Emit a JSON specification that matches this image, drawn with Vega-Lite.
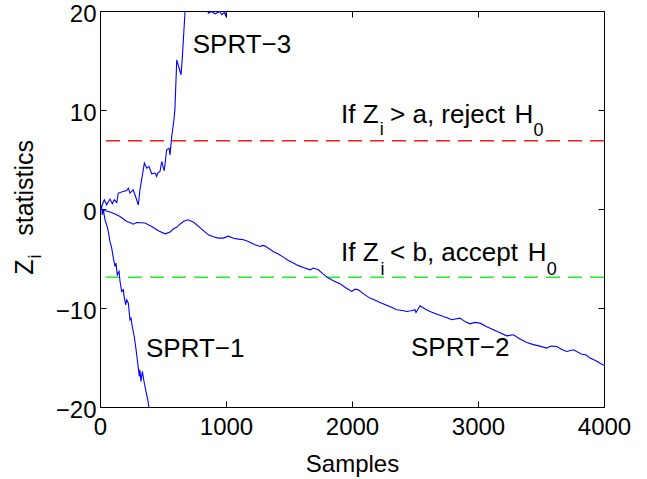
{
  "$schema": "https://vega.github.io/schema/vega-lite/v6.json",
  "width": 504,
  "height": 396,
  "autosize": "none",
  "padding": {"left": 100, "top": 11, "right": 43, "bottom": 72},
  "background": "white",
  "config": {
    "view": {"stroke": "black", "strokeWidth": 1},
    "font": "Liberation Sans",
    "axis": {
      "domainColor": "black", "tickColor": "black", "labelColor": "black", "titleColor": "black",
      "grid": false, "labelFont": "Liberation Sans", "titleFont": "Liberation Sans",
      "labelFontSize": 24, "titleFontSize": 24, "titleFontWeight": "normal",
      "tickSize": -6, "tickWidth": 1, "labelFlush": false, "labelOverlap": false, "format": "d", "zindex": 2
    }
  },
  "datasets": {
    "curves": [
      {"s":"SPRT-2","x":0,"y":0},{"s":"SPRT-2","x":40,"y":-0.18},{"s":"SPRT-2","x":80,"y":-0.3},{"s":"SPRT-2","x":119,"y":-0.51},{"s":"SPRT-2","x":159,"y":-0.76},{"s":"SPRT-2","x":212,"y":-1.26},{"s":"SPRT-2","x":238,"y":-1.36},{"s":"SPRT-2","x":264,"y":-1.53},{"s":"SPRT-2","x":291,"y":-1.36},{"s":"SPRT-2","x":357,"y":-1.42},{"s":"SPRT-2","x":410,"y":-1.77},{"s":"SPRT-2","x":463,"y":-2.2},{"s":"SPRT-2","x":516,"y":-2.51},{"s":"SPRT-2","x":556,"y":-2.33},{"s":"SPRT-2","x":575,"y":-2.1},{"s":"SPRT-2","x":595,"y":-1.93},{"s":"SPRT-2","x":610,"y":-1.85},{"s":"SPRT-2","x":621,"y":-1.67},{"s":"SPRT-2","x":661,"y":-1.26},{"s":"SPRT-2","x":696,"y":-1.09},{"s":"SPRT-2","x":741,"y":-1.32},{"s":"SPRT-2","x":800,"y":-1.95},{"s":"SPRT-2","x":860,"y":-2.61},{"s":"SPRT-2","x":900,"y":-2.8},{"s":"SPRT-2","x":939,"y":-2.94},{"s":"SPRT-2","x":979,"y":-2.94},{"s":"SPRT-2","x":1018,"y":-2.74},{"s":"SPRT-2","x":1060,"y":-2.95},{"s":"SPRT-2","x":1098,"y":-3.04},{"s":"SPRT-2","x":1140,"y":-3.1},{"s":"SPRT-2","x":1177,"y":-3.28},{"s":"SPRT-2","x":1230,"y":-3.62},{"s":"SPRT-2","x":1270,"y":-3.79},{"s":"SPRT-2","x":1290,"y":-3.68},{"s":"SPRT-2","x":1310,"y":-3.75},{"s":"SPRT-2","x":1375,"y":-4.29},{"s":"SPRT-2","x":1415,"y":-4.55},{"s":"SPRT-2","x":1455,"y":-4.86},{"s":"SPRT-2","x":1495,"y":-5.2},{"s":"SPRT-2","x":1534,"y":-5.46},{"s":"SPRT-2","x":1575,"y":-5.72},{"s":"SPRT-2","x":1614,"y":-5.91},{"s":"SPRT-2","x":1667,"y":-6.14},{"s":"SPRT-2","x":1693,"y":-5.97},{"s":"SPRT-2","x":1733,"y":-6.14},{"s":"SPRT-2","x":1770,"y":-6.55},{"s":"SPRT-2","x":1812,"y":-6.98},{"s":"SPRT-2","x":1860,"y":-7.3},{"s":"SPRT-2","x":1905,"y":-7.56},{"s":"SPRT-2","x":1950,"y":-7.95},{"s":"SPRT-2","x":1998,"y":-8.33},{"s":"SPRT-2","x":2025,"y":-8.1},{"s":"SPRT-2","x":2050,"y":-8.16},{"s":"SPRT-2","x":2100,"y":-8.65},{"s":"SPRT-2","x":2143,"y":-9.0},{"s":"SPRT-2","x":2180,"y":-9.2},{"s":"SPRT-2","x":2222,"y":-9.44},{"s":"SPRT-2","x":2290,"y":-9.8},{"s":"SPRT-2","x":2355,"y":-10.18},{"s":"SPRT-2","x":2400,"y":-10.25},{"s":"SPRT-2","x":2434,"y":-10.35},{"s":"SPRT-2","x":2470,"y":-10.28},{"s":"SPRT-2","x":2500,"y":-10.18},{"s":"SPRT-2","x":2508,"y":-10.45},{"s":"SPRT-2","x":2540,"y":-9.78},{"s":"SPRT-2","x":2580,"y":-10.1},{"s":"SPRT-2","x":2619,"y":-10.35},{"s":"SPRT-2","x":2670,"y":-10.6},{"s":"SPRT-2","x":2725,"y":-10.86},{"s":"SPRT-2","x":2760,"y":-11.0},{"s":"SPRT-2","x":2791,"y":-11.19},{"s":"SPRT-2","x":2857,"y":-11.02},{"s":"SPRT-2","x":2900,"y":-11.4},{"s":"SPRT-2","x":2937,"y":-11.6},{"s":"SPRT-2","x":2975,"y":-11.45},{"s":"SPRT-2","x":3016,"y":-11.53},{"s":"SPRT-2","x":3070,"y":-11.9},{"s":"SPRT-2","x":3122,"y":-12.2},{"s":"SPRT-2","x":3175,"y":-12.5},{"s":"SPRT-2","x":3228,"y":-12.81},{"s":"SPRT-2","x":3281,"y":-12.71},{"s":"SPRT-2","x":3330,"y":-13.1},{"s":"SPRT-2","x":3387,"y":-13.48},{"s":"SPRT-2","x":3440,"y":-13.7},{"s":"SPRT-2","x":3490,"y":-13.85},{"s":"SPRT-2","x":3545,"y":-14.05},{"s":"SPRT-2","x":3580,"y":-13.85},{"s":"SPRT-2","x":3625,"y":-13.89},{"s":"SPRT-2","x":3665,"y":-14.2},{"s":"SPRT-2","x":3704,"y":-14.39},{"s":"SPRT-2","x":3757,"y":-14.22},{"s":"SPRT-2","x":3820,"y":-14.65},{"s":"SPRT-2","x":3860,"y":-14.75},{"s":"SPRT-2","x":3889,"y":-15.06},{"s":"SPRT-2","x":3940,"y":-15.35},{"s":"SPRT-2","x":3990,"y":-15.74},{"s":"SPRT-2","x":4000,"y":-15.8},
      {"s":"SPRT-3","x":0,"y":0},{"s":"SPRT-3","x":13,"y":0.25},{"s":"SPRT-3","x":34,"y":0.93},{"s":"SPRT-3","x":53,"y":0.42},{"s":"SPRT-3","x":79,"y":1.0},{"s":"SPRT-3","x":98,"y":0.53},{"s":"SPRT-3","x":113,"y":0.93},{"s":"SPRT-3","x":133,"y":0.66},{"s":"SPRT-3","x":145,"y":1.61},{"s":"SPRT-3","x":185,"y":1.77},{"s":"SPRT-3","x":212,"y":1.87},{"s":"SPRT-3","x":225,"y":2.11},{"s":"SPRT-3","x":238,"y":1.61},{"s":"SPRT-3","x":264,"y":1.94},{"s":"SPRT-3","x":291,"y":0.93},{"s":"SPRT-3","x":304,"y":0.42},{"s":"SPRT-3","x":317,"y":1.94},{"s":"SPRT-3","x":352,"y":4.64},{"s":"SPRT-3","x":371,"y":4.13},{"s":"SPRT-3","x":389,"y":4.29},{"s":"SPRT-3","x":410,"y":3.56},{"s":"SPRT-3","x":437,"y":3.63},{"s":"SPRT-3","x":450,"y":3.28},{"s":"SPRT-3","x":458,"y":3.63},{"s":"SPRT-3","x":476,"y":3.79},{"s":"SPRT-3","x":490,"y":4.8},{"s":"SPRT-3","x":510,"y":3.86},{"s":"SPRT-3","x":529,"y":5.98},{"s":"SPRT-3","x":548,"y":6.15},{"s":"SPRT-3","x":556,"y":5.47},{"s":"SPRT-3","x":569,"y":7.32},{"s":"SPRT-3","x":587,"y":9.01},{"s":"SPRT-3","x":595,"y":10.19},{"s":"SPRT-3","x":609,"y":15.07},{"s":"SPRT-3","x":643,"y":13.56},{"s":"SPRT-3","x":653,"y":15.24},{"s":"SPRT-3","x":675,"y":19.95},{"s":"SPRT-3","x":714,"y":23},{"s":"SPRT-3","x":794,"y":24},{"s":"SPRT-3","x":837,"y":21.5},{"s":"SPRT-3","x":860,"y":19.79},{"s":"SPRT-3","x":886,"y":19.95},{"s":"SPRT-3","x":913,"y":19.72},{"s":"SPRT-3","x":952,"y":19.95},{"s":"SPRT-3","x":966,"y":19.62},{"s":"SPRT-3","x":987,"y":19.85},{"s":"SPRT-3","x":998,"y":19.52},{"s":"SPRT-3","x":1020,"y":21.5},{"s":"SPRT-3","x":1100,"y":24},
      {"s":"SPRT-1","x":0,"y":0},{"s":"SPRT-1","x":13,"y":0.25},{"s":"SPRT-1","x":18,"y":-0.59},{"s":"SPRT-1","x":26,"y":-0.08},{"s":"SPRT-1","x":40,"y":-1.09},{"s":"SPRT-1","x":53,"y":-1.6},{"s":"SPRT-1","x":66,"y":-2.27},{"s":"SPRT-1","x":79,"y":-3.28},{"s":"SPRT-1","x":93,"y":-3.95},{"s":"SPRT-1","x":106,"y":-4.96},{"s":"SPRT-1","x":119,"y":-5.81},{"s":"SPRT-1","x":127,"y":-5.46},{"s":"SPRT-1","x":137,"y":-6.65},{"s":"SPRT-1","x":151,"y":-6.31},{"s":"SPRT-1","x":159,"y":-7.32},{"s":"SPRT-1","x":172,"y":-8.33},{"s":"SPRT-1","x":185,"y":-8.16},{"s":"SPRT-1","x":193,"y":-9.0},{"s":"SPRT-1","x":204,"y":-9.68},{"s":"SPRT-1","x":212,"y":-9.17},{"s":"SPRT-1","x":225,"y":-9.51},{"s":"SPRT-1","x":238,"y":-11.19},{"s":"SPRT-1","x":246,"y":-11.02},{"s":"SPRT-1","x":256,"y":-11.87},{"s":"SPRT-1","x":272,"y":-12.88},{"s":"SPRT-1","x":283,"y":-13.89},{"s":"SPRT-1","x":296,"y":-15.23},{"s":"SPRT-1","x":304,"y":-16.07},{"s":"SPRT-1","x":312,"y":-16.92},{"s":"SPRT-1","x":317,"y":-16.24},{"s":"SPRT-1","x":325,"y":-17.42},{"s":"SPRT-1","x":336,"y":-16.41},{"s":"SPRT-1","x":347,"y":-17.25},{"s":"SPRT-1","x":357,"y":-17.93},{"s":"SPRT-1","x":365,"y":-18.43},{"s":"SPRT-1","x":379,"y":-19.27},{"s":"SPRT-1","x":389,"y":-20.11},{"s":"SPRT-1","x":400,"y":-21}
    ],
    "thresholds": [{"y": 6.9, "kind": "a"}, {"y": -6.9, "kind": "b"}],
    "annot": [
      {"x": 736, "y": 15.75, "t": "SPRT−3"},
      {"x": 365, "y": -14.9, "t": "SPRT−1"},
      {"x": 2468, "y": -14.83, "t": "SPRT−2"},
      {"x": 1913, "y": 8.71, "t": "If Z"},
      {"x": 2302, "y": 8.71, "t": "> a, reject"},
      {"x": 3290, "y": 8.71, "t": "H"},
      {"x": 1913, "y": -5.3, "t": "If Z"},
      {"x": 2302, "y": -5.3, "t": "< b, accept"},
      {"x": 3395, "y": -5.3, "t": "H"}
    ],
    "subs": [
      {"x": 2220, "y": 7.5, "t": "i"},
      {"x": 3440, "y": 7.39, "t": "0"},
      {"x": 2226, "y": -6.65, "t": "i"},
      {"x": 3546, "y": -6.65, "t": "0"}
    ],
    "ytitle": [
      {"x": -532, "y": -6.65, "t": "Z"},
      {"x": -532, "y": -2.7, "t": "statistics"}
    ],
    "ysub": [
      {"x": -472, "y": -5.0, "t": "i"}
    ]
  },
  "resolve": {"axis": {"x": "independent", "y": "independent"}},
  "layer": [
    {
      "data": {"name": "thresholds"},
      "mark": {"type": "rule", "strokeDash": [14, 8], "strokeWidth": 1.5},
      "encoding": {
        "y": {"field": "y", "type": "quantitative", "scale": {"domain": [-20, 20], "nice": false}, "axis": null},
        "color": {"field": "kind", "type": "nominal", "scale": {"domain": ["a", "b"], "range": ["#ff1a1a", "#22ee22"]}, "legend": null}
      }
    },
    {
      "data": {"name": "curves"},
      "mark": {"type": "line", "clip": true, "strokeWidth": 1.1, "color": "#0000ff"},
      "encoding": {
        "x": {"field": "x", "type": "quantitative", "scale": {"domain": [0, 4000], "nice": false},
              "axis": {"orient": "bottom", "values": [0, 1000, 2000, 3000, 4000], "title": "Samples", "labelPadding": 14, "titlePadding": 13, "domain": false}},
        "y": {"field": "y", "type": "quantitative", "scale": {"domain": [-20, 20], "nice": false},
              "axis": {"orient": "left", "values": [-20, -10, 0, 10, 20], "title": null, "labelPadding": 10, "labelOffset": 3, "domain": false}},
        "detail": {"field": "s", "type": "nominal"}
      }
    },
    {
      "data": {"name": "annot"},
      "mark": {"type": "text", "align": "left", "baseline": "alphabetic", "fontSize": 26, "font": "Liberation Sans", "color": "black"},
      "encoding": {
        "x": {"field": "x", "type": "quantitative", "axis": {"orient": "top", "values": [0, 1000, 2000, 3000, 4000], "labels": false, "title": null, "domain": false}},
        "y": {"field": "y", "type": "quantitative", "axis": {"orient": "right", "values": [-20, -10, 0, 10, 20], "labels": false, "title": null, "domain": false}},
        "text": {"field": "t"}
      }
    },
    {
      "data": {"name": "subs"},
      "mark": {"type": "text", "align": "left", "baseline": "alphabetic", "fontSize": 18, "font": "Liberation Sans", "color": "black"},
      "encoding": {
        "x": {"field": "x", "type": "quantitative", "axis": null},
        "y": {"field": "y", "type": "quantitative", "axis": null},
        "text": {"field": "t"}
      }
    },
    {
      "data": {"name": "ytitle"},
      "mark": {"type": "text", "align": "left", "baseline": "alphabetic", "angle": 270, "fontSize": 25, "font": "Liberation Sans", "color": "black"},
      "encoding": {
        "x": {"field": "x", "type": "quantitative", "axis": null},
        "y": {"field": "y", "type": "quantitative", "axis": null},
        "text": {"field": "t"}
      }
    },
    {
      "data": {"name": "ysub"},
      "mark": {"type": "text", "align": "left", "baseline": "alphabetic", "angle": 270, "fontSize": 18, "font": "Liberation Sans", "color": "black"},
      "encoding": {
        "x": {"field": "x", "type": "quantitative", "axis": null},
        "y": {"field": "y", "type": "quantitative", "axis": null},
        "text": {"field": "t"}
      }
    }
  ]
}
